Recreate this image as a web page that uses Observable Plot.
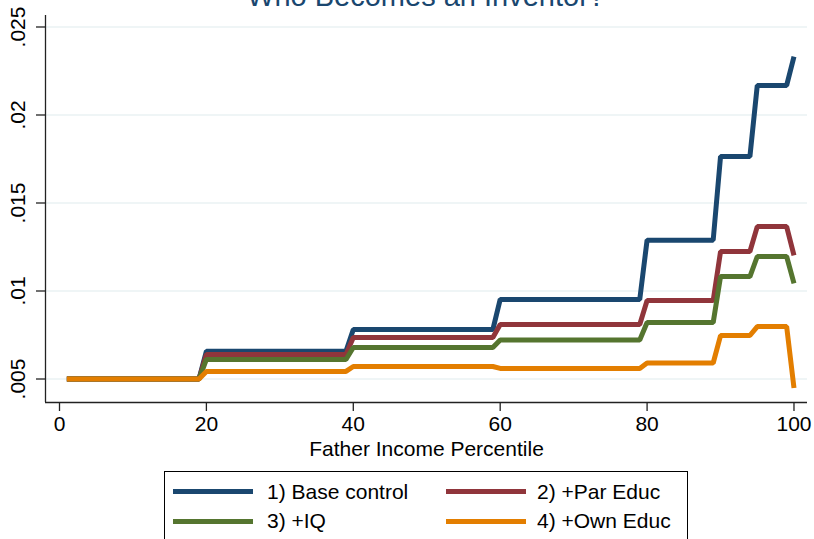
<!DOCTYPE html>
<html><head><meta charset="utf-8">
<script src="https://cdn.jsdelivr.net/npm/d3@7"></script>
<script src="https://cdn.jsdelivr.net/npm/@observablehq/plot@0.6"></script>
<style>
body{margin:0;background:#fff;font-family:"Liberation Sans",Arial,sans-serif;}
#wrap{position:relative;width:814px;height:539px;overflow:hidden;background:#fff;}
#title{position:absolute;left:45px;width:762px;top:-18px;font-size:29px;line-height:29px;text-align:center;color:#1a476f;z-index:2;white-space:nowrap}
#chart{position:absolute;left:0;top:0}
#legend{position:absolute;left:164px;top:471px;width:524px;height:100px;border:1px solid #000;box-sizing:border-box;background:#fff}
.sw{position:absolute;height:5px;width:80px}
.lt{position:absolute;font-size:21px;line-height:21px;color:#000;white-space:nowrap}
</style></head>
<body>
<div id="wrap">
  <div id="title"></div>
  <div id="chart"></div>
  <div id="legend"></div>
</div>
<script>
const title = "Who Becomes an Inventor?";
const xLabel = "Father Income Percentile";
const xTicks = [0, 20, 40, 60, 80, 100];
const yTicks = [0.005, 0.01, 0.015, 0.02, 0.025];
const yTickLabels = [".005", ".01", ".015", ".02", ".025"];
const seriesNames = ["1) Base control", "2) +Par Educ", "3) +IQ", "4) +Own Educ"];
const seriesColors = ["#1a476f", "#90353b", "#55752f", "#e37e00"];

const percentile = [
  1,2,3,4,5,6,7,8,9,10,
  11,12,13,14,15,16,17,18,19,20,
  21,22,23,24,25,26,27,28,29,30,
  31,32,33,34,35,36,37,38,39,40,
  41,42,43,44,45,46,47,48,49,50,
  51,52,53,54,55,56,57,58,59,60,
  61,62,63,64,65,66,67,68,69,70,
  71,72,73,74,75,76,77,78,79,80,
  81,82,83,84,85,86,87,88,89,90,
  91,92,93,94,95,96,97,98,99,100
];

const baseControl = [
  .005,.005,.005,.005,.005,.005,.005,.005,.005,.005,
  .005,.005,.005,.005,.005,.005,.005,.005,.005,.00658,
  .00658,.00658,.00658,.00658,.00658,.00658,.00658,.00658,.00658,.00658,
  .00658,.00658,.00658,.00658,.00658,.00658,.00658,.00658,.00658,.00781,
  .00781,.00781,.00781,.00781,.00781,.00781,.00781,.00781,.00781,.00781,
  .00781,.00781,.00781,.00781,.00781,.00781,.00781,.00781,.00781,.00952,
  .00952,.00952,.00952,.00952,.00952,.00952,.00952,.00952,.00952,.00952,
  .00952,.00952,.00952,.00952,.00952,.00952,.00952,.00952,.00952,.01289,
  .01289,.01289,.01289,.01289,.01289,.01289,.01289,.01289,.01289,.01764,
  .01764,.01764,.01764,.01764,.02168,.02168,.02168,.02168,.02168,.02332
];
const parEduc = [
  .005,.005,.005,.005,.005,.005,.005,.005,.005,.005,
  .005,.005,.005,.005,.005,.005,.005,.005,.005,.00639,
  .00639,.00639,.00639,.00639,.00639,.00639,.00639,.00639,.00639,.00639,
  .00639,.00639,.00639,.00639,.00639,.00639,.00639,.00639,.00639,.00736,
  .00736,.00736,.00736,.00736,.00736,.00736,.00736,.00736,.00736,.00736,
  .00736,.00736,.00736,.00736,.00736,.00736,.00736,.00736,.00736,.0081,
  .0081,.0081,.0081,.0081,.0081,.0081,.0081,.0081,.0081,.0081,
  .0081,.0081,.0081,.0081,.0081,.0081,.0081,.0081,.0081,.00946,
  .00946,.00946,.00946,.00946,.00946,.00946,.00946,.00946,.00946,.01224,
  .01224,.01224,.01224,.01224,.01366,.01366,.01366,.01366,.01366,.01202
];
const iq = [
  .005,.005,.005,.005,.005,.005,.005,.005,.005,.005,
  .005,.005,.005,.005,.005,.005,.005,.005,.005,.00611,
  .00611,.00611,.00611,.00611,.00611,.00611,.00611,.00611,.00611,.00611,
  .00611,.00611,.00611,.00611,.00611,.00611,.00611,.00611,.00611,.00679,
  .00679,.00679,.00679,.00679,.00679,.00679,.00679,.00679,.00679,.00679,
  .00679,.00679,.00679,.00679,.00679,.00679,.00679,.00679,.00679,.00722,
  .00722,.00722,.00722,.00722,.00722,.00722,.00722,.00722,.00722,.00722,
  .00722,.00722,.00722,.00722,.00722,.00722,.00722,.00722,.00722,.00821,
  .00821,.00821,.00821,.00821,.00821,.00821,.00821,.00821,.00821,.01082,
  .01082,.01082,.01082,.01082,.01196,.01196,.01196,.01196,.01196,.01043
];
const ownEduc = [
  .005,.005,.005,.005,.005,.005,.005,.005,.005,.005,
  .005,.005,.005,.005,.005,.005,.005,.005,.005,.00543,
  .00543,.00543,.00543,.00543,.00543,.00543,.00543,.00543,.00543,.00543,
  .00543,.00543,.00543,.00543,.00543,.00543,.00543,.00543,.00543,.00571,
  .00571,.00571,.00571,.00571,.00571,.00571,.00571,.00571,.00571,.00571,
  .00571,.00571,.00571,.00571,.00571,.00571,.00571,.00571,.00571,.0056,
  .0056,.0056,.0056,.0056,.0056,.0056,.0056,.0056,.0056,.0056,
  .0056,.0056,.0056,.0056,.0056,.0056,.0056,.0056,.0056,.00591,
  .00591,.00591,.00591,.00591,.00591,.00591,.00591,.00591,.00591,.00747,
  .00747,.00747,.00747,.00747,.00798,.00798,.00798,.00798,.00798,.00449
];

const seriesValues = [baseControl, parEduc, iq, ownEduc];
const tables = seriesValues.map((vals, k) =>
  percentile.map((p, i) => ({x: p, y: vals[i], s: seriesNames[k]})));

document.getElementById("title").textContent = title;

const axisColor = "#222";
const xDomain = [-1.906, 101.84];
const yDomain = [0.003665, 0.025653];

const chart = Plot.plot({
  width: 814,
  height: 460,
  marginTop: 15,
  marginBottom: 58,
  marginLeft: 45,
  marginRight: 7,
  style: {fontFamily: "'Liberation Sans', Arial, sans-serif", color: "#000", background: "transparent"},
  x: {domain: xDomain},
  y: {domain: yDomain},
  marks: [
    Plot.ruleY(yTicks, {stroke: "#eaf2f3", strokeWidth: 1.6}),
    ...tables.map((t, k) => Plot.line(t, {
      x: "x", y: "y", stroke: seriesColors[k], strokeWidth: 5,
      strokeLinejoin: "miter", strokeLinecap: "butt"
    })),
    Plot.ruleX([xDomain[0]], {stroke: axisColor, strokeWidth: 1.3}),
    Plot.ruleY([yDomain[0]], {stroke: axisColor, strokeWidth: 1.3}),
    Plot.axisX({ticks: xTicks, tickSize: 9, tickPadding: 5, fontSize: 21, label: null, stroke: axisColor, strokeWidth: 1.3}),
    Plot.axisY({ticks: yTicks, tickSize: 9, tickFormat: () => "", label: null, stroke: axisColor, strokeWidth: 1.3}),
    Plot.text(yTicks, {
      y: d => d, text: (d, i) => yTickLabels[i], frameAnchor: "left",
      dx: -27, rotate: -90, textAnchor: "middle", lineAnchor: "middle", fontSize: 21, fill: "#000"
    }),
    Plot.text([xLabel], {text: d => d, frameAnchor: "bottom", dy: 47, lineAnchor: "middle", fontSize: 21, fill: "#000"})
  ]
});
document.getElementById("chart").appendChild(chart);

// Legend
const legend = document.getElementById("legend");
const legendPos = [
  {sw: [8, 16.5], tx: [102, 9.2]},
  {sw: [281, 16.5], tx: [372, 9.2]},
  {sw: [8, 46.5], tx: [102, 38.2]},
  {sw: [281, 46.5], tx: [372, 38.2]}
];
seriesNames.forEach((name, k) => {
  const p = legendPos[k];
  const sw = document.createElement("div");
  sw.className = "sw";
  sw.style.left = p.sw[0] + "px";
  sw.style.top = p.sw[1] + "px";
  sw.style.background = seriesColors[k];
  legend.appendChild(sw);
  const tx = document.createElement("div");
  tx.className = "lt";
  tx.style.left = p.tx[0] + "px";
  tx.style.top = p.tx[1] + "px";
  tx.textContent = name;
  legend.appendChild(tx);
});
</script>
</body></html>
